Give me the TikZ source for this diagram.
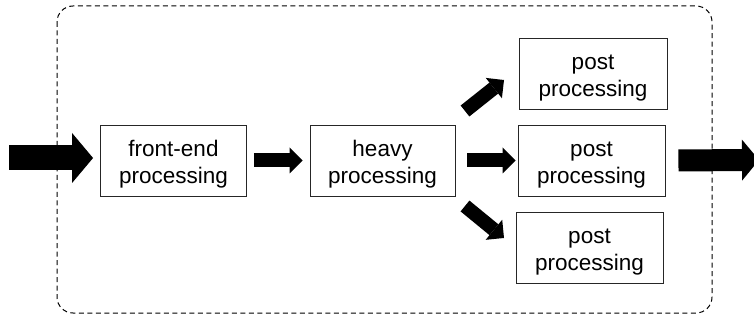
\documentclass[tikz,border=0pt]{standalone}
\usepackage{fontspec}
\setmainfont{Liberation Sans}
\usetikzlibrary{arrows.meta}
\newcommand{\toppad}{\rule{0pt}{24pt}}
\tikzset{
  stage/.style={draw=black!85, line width=0.9pt, minimum width=146pt, minimum height=71pt,
    inner sep=0pt, align=center, font=\fontsize{22.5}{27}\selectfont},
  fatarrow/.style={line width=14pt, -{Triangle[length=13pt,width=26pt,line width=0pt]}},
  bigarrow/.style={line width=25pt, -{Triangle[length=21pt,width=50pt,line width=0pt]}},
  outarrow/.style={line width=22pt, -{Triangle[length=17pt,width=41pt,line width=0pt]}},
  frame/.style={draw, line width=1pt, dash pattern=on 5pt off 3.5pt, rounded corners=16pt}
}
\begin{document}
\begin{tikzpicture}[x=1pt, y=-1pt]
\useasboundingbox (0,0) rectangle (754,320);
\draw[frame] (57,6) rectangle (712,313);
\node[stage] (front) at (173.5,160.5) {\toppad front-end\\processing};
\node[stage, minimum width=145pt] (heavy) at (382.5,160.5) {\toppad heavy\\processing};
\node[stage, minimum width=148pt] (post1) at (593,73.5) {\toppad post\\processing};
\node[stage, minimum width=147pt] (post2) at (591.5,160.5) {\toppad post\\processing};
\node[stage, minimum width=147pt] (post3) at (589.5,247.5) {\toppad post\\processing};
\coordinate (in) at (9,158);
\coordinate (out) at (759,160);
\coordinate (u0) at (465,111);
\coordinate (u1) at (504,80);
\coordinate (d0) at (465,206);
\coordinate (d1) at (504,238);
\draw[bigarrow, shorten >=7pt] (in) -- (front.west |- in);
\draw[fatarrow, shorten <=7pt, shorten >=7pt] (front) -- (heavy);
\draw[fatarrow, shorten <=12pt, shorten >=2pt] (heavy) -- (post2);
\draw[fatarrow] (u0) -- (u1);
\draw[fatarrow] (d0) -- (d1);
\draw[outarrow, shorten <=13pt] (post2.east) -- (out);
\end{tikzpicture}
\end{document}
